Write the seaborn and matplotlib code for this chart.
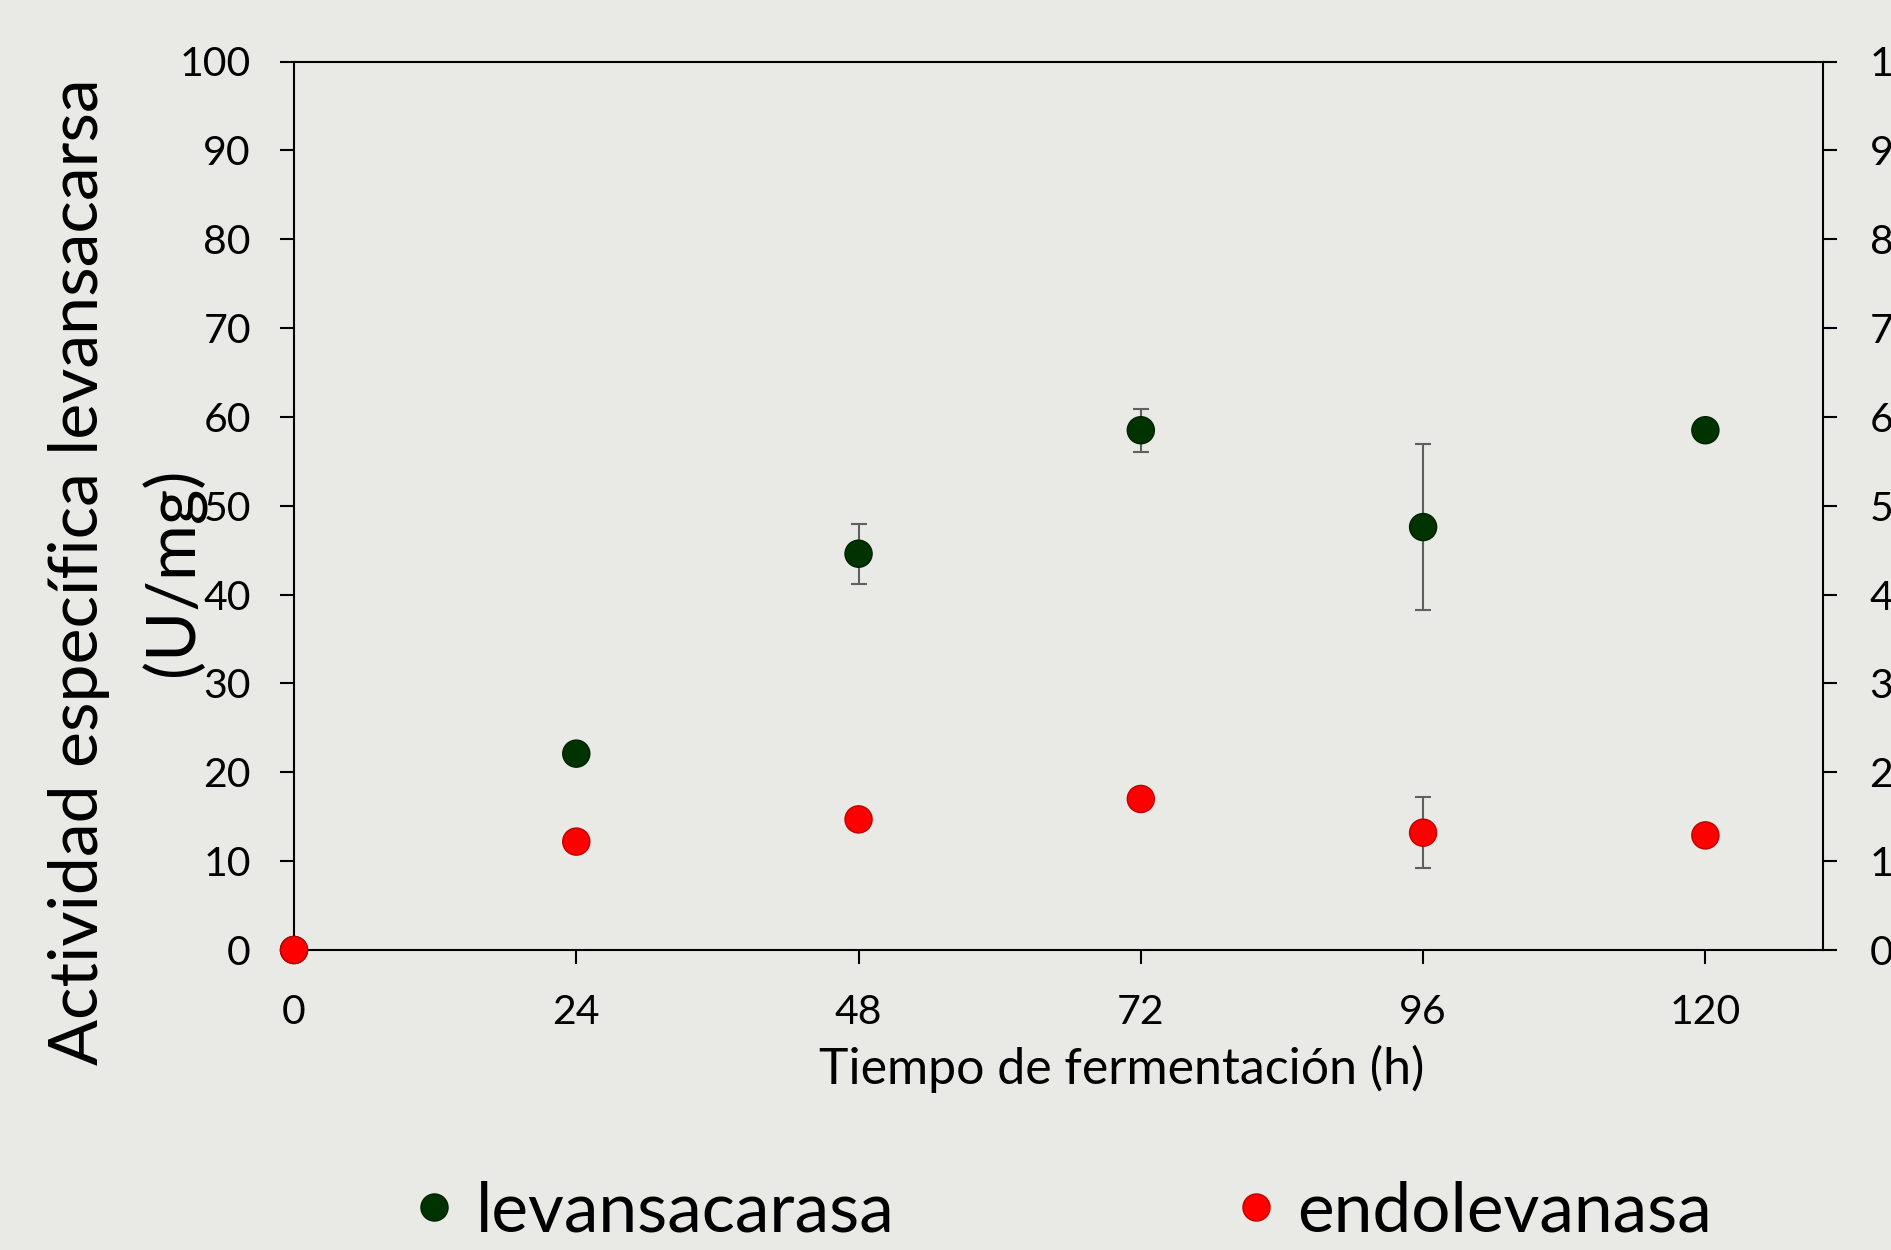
import numpy as np
import pandas as pd
import matplotlib
matplotlib.use("Agg")
import matplotlib.pyplot as plt
import seaborn as sns

# ---- data ----
time_h = [0, 24, 48, 72, 96, 120]
levansacarasa = [0.0, 22.1, 44.6, 58.5, 47.6, 58.5]
levansacarasa_err = [0.0, 0.0, 3.4, 2.4, 9.3, 0.0]
endolevanasa = [0.0, 12.2, 14.7, 17.0, 13.2, 12.9]
endolevanasa_err = [0.0, 0.0, 0.0, 0.0, 4.0, 0.0]
series_names = ["levansacarasa", "endolevanasa"]
x_ticks = [0, 24, 48, 72, 96, 120]
y_ticks = list(range(0, 101, 10))

bg = "#e9e9e6"
green = "#013300"
red = "#ff0000"
edge = {series_names[0]: "#002200", series_names[1]: "#c00000"}

sns.set_style("ticks")
plt.rcParams["font.family"] = ["Lato", "DejaVu Sans"]
plt.rcParams["text.color"] = "black"
plt.rcParams["axes.labelcolor"] = "black"
plt.rcParams["xtick.color"] = "black"
plt.rcParams["ytick.color"] = "black"

df = pd.DataFrame({
    "time": time_h * 2,
    "value": levansacarasa + endolevanasa,
    "serie": [series_names[0]] * len(time_h) + [series_names[1]] * len(time_h),
})

fig = plt.figure(figsize=(18.91, 12.5), dpi=100, facecolor=bg)
ax = fig.add_axes([294 / 1891, 1 - 950 / 1250, (1823 - 294) / 1891, (950 - 61.5) / 1250])
ax.set_facecolor(bg)

ax.errorbar(time_h, levansacarasa, yerr=levansacarasa_err, fmt="none",
            ecolor="#606060", elinewidth=1.5, capsize=6, capthick=1.5, zorder=1)
ax.errorbar(time_h, endolevanasa, yerr=endolevanasa_err, fmt="none",
            ecolor="#606060", elinewidth=1.5, capsize=6, capthick=1.5, zorder=1)

sns.scatterplot(data=df, x="time", y="value", hue="serie",
                palette={series_names[0]: green, series_names[1]: red},
                s=380, linewidth=1.0, ax=ax, zorder=3, clip_on=False)
pts = ax.collections[-1]
pts.set_edgecolors([edge[s] for s in df["serie"]])

ax.set_xlim(0, 130)
ax.set_ylim(0, 100)
ax.set_xticks(x_ticks)
ax.set_yticks(y_ticks)
for sp in ax.spines.values():
    sp.set_visible(True)
    sp.set_color("black")
    sp.set_linewidth(1.5)
ax.tick_params(axis="both", direction="out", length=10, width=1.5, labelsize=29.5,
               colors="black")
ax.tick_params(axis="y", pad=21)
ax.tick_params(axis="x", pad=22)
ax.set_ylabel("")
ax.set_xlabel("Tiempo de fermentación (h)", fontsize=36, labelpad=2, color="black")
ax.xaxis.set_label_coords((1122 - 294) / 1529, -0.107)

handles, labels = ax.get_legend_handles_labels()
if ax.get_legend() is not None:
    ax.get_legend().remove()
for h, l in zip(handles, labels):
    try:
        h.set_markeredgecolor(edge.get(l, "none"))
    except Exception:
        pass

ax2 = ax.twinx()
ax2.set_ylim(0, 100)
ax2.set_yticks(y_ticks)
ax2.tick_params(axis="y", direction="out", length=10, width=1.5, labelsize=29.5,
                pad=23.5, colors="black")
for sp in ax2.spines.values():
    sp.set_visible(False)

fig.text(127 / 1891, 1 - 572 / 1250, "Actividad específica levansacarsa\n(U/mg)",
         rotation=90, ha="center", va="center", multialignment="center",
         fontsize=49, linespacing=1.6, color="black")

leg = fig.legend(handles, labels, loc="center", bbox_to_anchor=(0.562, 1 - 1212 / 1250),
                 ncol=2, frameon=False, fontsize=50, columnspacing=4.9, handletextpad=0.3,
                 handlelength=0.6, markerscale=1.0)
for t in leg.get_texts():
    t.set_color("black")

fig.savefig("out.png", dpi=100, facecolor=bg)
